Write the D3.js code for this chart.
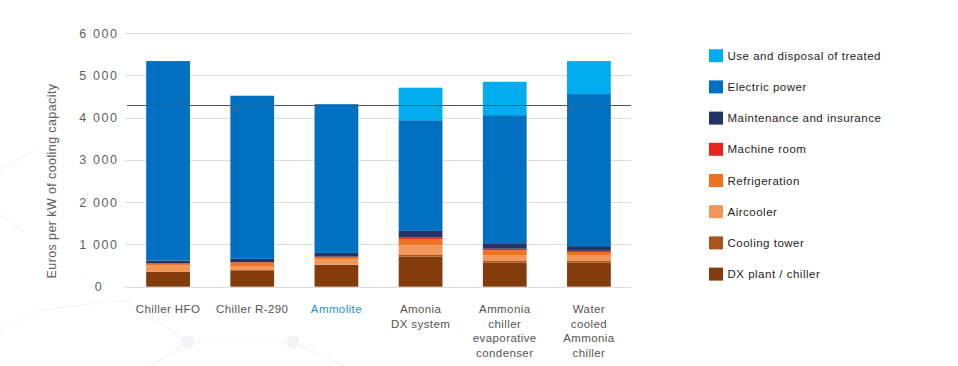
<!DOCTYPE html>
<html>
<head>
<meta charset="utf-8">
<script src="https://cdn.jsdelivr.net/npm/d3@7/dist/d3.min.js"></script>
<style>
  html, body { margin: 0; padding: 0; background: #fff; }
  svg { display: block; font-family: "Liberation Sans", Arial, sans-serif; }
</style>
</head>
<body>
<div id="chart"></div>
<script>
// categories (x axis), one label line per entry
const categories = ['Chiller HFO', 'Chiller R-290', 'Ammolite', 'Amonia DX system',
  'Ammonia chiller evaporative condenser', 'Water cooled Ammonia chiller'];
const categoryLines = [
  ['Chiller HFO'],
  ['Chiller R-290'],
  ['Ammolite'],
  ['Amonia', 'DX system'],
  ['Ammonia', 'chiller', 'evaporative', 'condenser'],
  ['Water', 'cooled', 'Ammonia', 'chiller']
];

// series, stacked bottom -> top (euros per kW)
const seriesNames = ['DX plant / chiller', 'Cooling tower', 'Aircooler', 'Refrigeration',
  'Machine room', 'Maintenance and insurance', 'Electric power', 'Use and disposal of treated'];
const dxPlant = [350, 390, 520, 710, 570, 570];
const coolingTower = [0, 0, 0, 40, 40, 40];
const aircooler = [150, 100, 130, 230, 130, 140];
const refrigeration = [50, 90, 60, 140, 120, 70];
const machineRoom = [0, 0, 0, 50, 40, 30];
const maintenance = [70, 80, 90, 150, 130, 110];
const electricPower = [4720, 3860, 3520, 2620, 3030, 3600];
const useDisposal = [0, 0, 0, 770, 790, 780];

const seriesColors = ['#843c0c', '#a9541a', '#f2965a', '#ee7221', '#e8251c', '#243466', '#0070c0', '#00aeef'];

const yTicks = [0, 1000, 2000, 3000, 4000, 5000, 6000];
const referenceValue = 4300;

const width = 958;
const height = 366;

const rows = categories.map(function (c, i) {
  return {
    category: c,
    'DX plant / chiller': dxPlant[i],
    'Cooling tower': coolingTower[i],
    'Aircooler': aircooler[i],
    'Refrigeration': refrigeration[i],
    'Machine room': machineRoom[i],
    'Maintenance and insurance': maintenance[i],
    'Electric power': electricPower[i],
    'Use and disposal of treated': useDisposal[i]
  };
});

const svg = d3.select('#chart')
  .append('svg')
  .attr('width', width)
  .attr('height', height);

// faint molecule pattern in the background
const deco = svg.append('g')
  .attr('stroke', '#f1f3f7')
  .attr('stroke-width', 1.2)
  .attr('fill', 'none');
const decoLines = [
  [[0, 330], [40, 310], [125, 300]], [[125, 300], [188, 342], [293, 342]],
  [[293, 342], [345, 366]], [[0, 170], [35, 150]], [[0, 215], [25, 232]],
  [[188, 342], [150, 366]]
];
decoLines.forEach(function (pts) {
  deco.append('path').attr('d', d3.line()(pts));
});
[[188, 342], [293, 342]].forEach(function (p) {
  deco.append('circle')
    .attr('cx', p[0]).attr('cy', p[1]).attr('r', 6)
    .attr('fill', '#f1f3f7');
});

const x = d3.scaleBand()
  .domain(categories)
  .range([126, 631])
  .paddingInner(0.48)
  .paddingOuter(0.24);

const y = d3.scaleLinear()
  .domain([0, 6000])
  .range([286.7, 33.2]);

// grid
svg.append('g')
  .selectAll('line')
  .data(yTicks)
  .enter()
  .append('line')
  .attr('x1', 125)
  .attr('x2', 631)
  .attr('y1', function (d) { return Math.round(y(d)) + 0.5; })
  .attr('y2', function (d) { return Math.round(y(d)) + 0.5; })
  .attr('stroke', '#dcdcdc')
  .attr('stroke-width', 1);

// y tick labels
svg.append('g')
  .selectAll('text')
  .data(yTicks)
  .enter()
  .append('text')
  .attr('x', 99)
  .attr('y', function (d) { return y(d) + 4.5; })
  .attr('text-anchor', 'middle')
  .attr('fill', '#5f5f5f')
  .style('font-size', '12.5px')
  .style('letter-spacing', '1.6px')
  .text(function (d) { return d3.format(',')(d).replace(',', ' '); });

// y title
svg.append('text')
  .attr('transform', 'translate(56,' + 181 + ') rotate(-90)')
  .attr('text-anchor', 'middle')
  .attr('fill', '#5f5f5f')
  .style('font-size', '12.5px')
  .style('letter-spacing', '0.4px')
  .text('Euros per kW of cooling capacity');

// stacked bars
const stack = d3.stack().keys(seriesNames);
const layers = stack(rows);

svg.append('g')
  .selectAll('g')
  .data(layers)
  .enter()
  .append('g')
  .attr('fill', function (d, i) { return seriesColors[i]; })
  .selectAll('rect')
  .data(function (d) { return d; })
  .enter()
  .append('rect')
  .attr('x', function (d) { return x(d.data.category); })
  .attr('y', function (d) { return y(d[1]); })
  .attr('width', x.bandwidth())
  .attr('height', function (d) { return Math.max(0, y(d[0]) - y(d[1])); });

// reference line
svg.append('line')
  .attr('x1', 127)
  .attr('x2', 631)
  .attr('y1', Math.round(y(referenceValue)) + 0.5)
  .attr('y2', Math.round(y(referenceValue)) + 0.5)
  .attr('stroke', '#555')
  .attr('stroke-width', 1.2);

// x labels
const xLabels = svg.append('g')
  .selectAll('text')
  .data(categories)
  .enter()
  .append('text')
  .attr('text-anchor', 'middle')
  .attr('fill', function (d) { return d === 'Ammolite' ? '#1b8fd2' : '#555'; })
  .style('font-size', '11.5px')
  .style('letter-spacing', '0.4px');

xLabels.selectAll('tspan')
  .data(function (d, i) { return categoryLines[i].map(function (t) { return {t: t, c: d}; }); })
  .enter()
  .append('tspan')
  .attr('x', function (d) { return x(d.c) + x.bandwidth() / 2; })
  .attr('y', function (d, j) { return 313 + j * 14.6; })
  .text(function (d) { return d.t; });

// legend, top entry = top of stack
const legendItems = seriesNames.slice().reverse();
const legend = svg.append('g')
  .selectAll('g')
  .data(legendItems)
  .enter()
  .append('g')
  .attr('transform', function (d, i) { return 'translate(709,' + (55.7 + i * 31.2) + ')'; });

legend.append('rect')
  .attr('x', 0)
  .attr('y', -6.5)
  .attr('width', 14)
  .attr('height', 13)
  .attr('fill', function (d) { return seriesColors[seriesNames.indexOf(d)]; });

legend.append('text')
  .attr('x', 18.5)
  .attr('y', 4)
  .attr('fill', '#1e1e1e')
  .style('font-size', '11.5px')
  .style('letter-spacing', '0.5px')
  .text(function (d) { return d; });
</script>
</body>
</html>
